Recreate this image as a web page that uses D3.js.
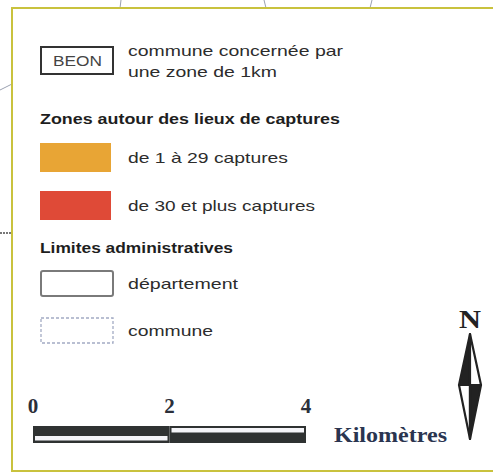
<!DOCTYPE html>
<html>
<head>
<meta charset="utf-8">
<script src="https://cdn.jsdelivr.net/npm/d3@7"></script>
<style>
  html, body { margin: 0; padding: 0; background: #fff; overflow: hidden; }
  svg { display: block; }
</style>
</head>
<body>
<div id="chart"></div>
<script>
// ---- data ----
const sampleCommune = "BEON";
const headerLines = ["commune concernée par", "une zone de 1km"];
const sectionTitles = ["Zones autour des lieux de captures", "Limites administratives"];
const captureClasses = ["de 1 à 29 captures", "de 30 et plus captures"];
const limitClasses = ["département", "commune"];
const scaleTicks = [0, 2, 4];
const scaleUnit = "Kilomètres";
const northLabel = "N";

// ---- styles ----
const captureColors = ["#e8a535", "#df4a37"];
const textColor = "#2c2c2c";
const W = 493, H = 472;

const svg = d3.select("#chart").append("svg")
  .attr("width", W).attr("height", H)
  .style("font-family", "'Liberation Sans', Arial, sans-serif");

// faint map remnants outside the frame
const g0 = svg.append("g").attr("stroke", "#9aa0b0").attr("stroke-width", 1).attr("fill", "none");
g0.append("line").attr("x1", 121).attr("y1", 0).attr("x2", 120).attr("y2", 8);
g0.append("line").attr("x1", 264).attr("y1", 0).attr("x2", 266).attr("y2", 8);
g0.append("line").attr("x1", 372).attr("y1", 0).attr("x2", 370).attr("y2", 8);
g0.append("path").attr("d", "M0,90 L8,86 L12,84");
svg.append("line").attr("x1", 0).attr("y1", 233).attr("x2", 12).attr("y2", 233)
  .attr("stroke", "#777").attr("stroke-width", 2).attr("stroke-dasharray", "2,1");

// frame: top, left and bottom edges only (right edge is cut off in the reference)
const frame = svg.append("g").attr("stroke", "#c9c23d").attr("stroke-width", 2);
frame.append("line").attr("x1", 11).attr("y1", 8).attr("x2", W).attr("y2", 8);
frame.append("line").attr("x1", 12).attr("y1", 7).attr("x2", 12).attr("y2", 472);
frame.append("line").attr("x1", 11).attr("y1", 471).attr("x2", W).attr("y2", 471);

function label(x, y, txt, len, opts = {}) {
  const t = svg.append("text").attr("x", x).attr("y", y).text(txt)
    .attr("fill", opts.fill || textColor)
    .attr("font-size", opts.size || 15)
    .attr("font-weight", opts.weight || "normal");
  if (opts.family) t.attr("font-family", opts.family);
  if (opts.anchor) t.attr("text-anchor", opts.anchor);
  if (len) t.attr("textLength", len).attr("lengthAdjust", "spacingAndGlyphs");
  return t;
}

// --- commune concernée ---
svg.append("rect").attr("x", 41).attr("y", 47).attr("width", 72).attr("height", 27)
  .attr("fill", "#fff").attr("stroke", "#333").attr("stroke-width", 2);
label(53, 66, sampleCommune, 49, { size: 14, fill: "#444" });
const headerBaselines = [56, 77];
headerLines.forEach((l, i) => label(128, headerBaselines[i], l, [215, 149][i]));

// --- section titles ---
label(40, 124, sectionTitles[0], 300, { weight: "bold", fill: "#1e1e1e" });
label(40, 253, sectionTitles[1], 193, { weight: "bold", fill: "#1e1e1e" });

// --- capture classes ---
const capY = d3.scaleOrdinal().domain(captureClasses).range([143, 191]);
captureClasses.forEach((c, i) => {
  svg.append("rect").attr("x", 40).attr("y", capY(c)).attr("width", 71).attr("height", 29)
    .attr("fill", captureColors[i]);
  label(128, capY(c) + 20, c, [160, 187][i]);
});

// --- administrative limits ---
const limY = d3.scaleOrdinal().domain(limitClasses).range([271, 318]);
limitClasses.forEach((c, i) => {
  const r = svg.append("rect").attr("x", 41).attr("y", limY(c)).attr("width", 72).attr("height", 25)
    .attr("fill", "#fff");
  if (i === 0) r.attr("stroke", "#7a7a7a").attr("stroke-width", 2).attr("rx", 2);
  else r.attr("stroke", "#a3abc4").attr("stroke-width", 1.3).attr("stroke-dasharray", "3,2");
  label(128, limY(c) + 18, c, [110, 85][i]);
});

// --- scale bar ---
const serif = "'Liberation Serif', 'Times New Roman', serif";
const sx = d3.scaleLinear().domain([0, 4]).range([33, 306]);
scaleTicks.forEach(t => {
  label(sx(t), 413, String(t), null, { size: 21, weight: "bold", family: serif, anchor: "middle", fill: "#2b2f3a" });
});
const segs = d3.pairs(scaleTicks);
segs.forEach((s, i) => {
  svg.append("rect").attr("x", sx(s[0])).attr("y", 426).attr("width", sx(s[1]) - sx(s[0])).attr("height", 17)
    .attr("fill", "#2f3232");
  svg.append("rect").attr("x", sx(s[0]) + 2).attr("y", i % 2 === 0 ? 436 : 428)
    .attr("width", sx(s[1]) - sx(s[0]) - 4).attr("height", 4.5)
    .attr("fill", "#f4f4f8");
});
label(334, 442, scaleUnit, 113, { size: 20, weight: "bold", family: serif, fill: "#2a3550" });

// --- north arrow ---
const ncx = 470;
label(ncx - 11, 328, northLabel, 22, { size: 25, weight: "bold", family: serif, fill: "#222" });
const aTop = 334, aMid = 385, aBot = 439, aHw = 11;
const tri = (pts, fill) => svg.append("path").attr("d", d3.line()(pts) + "Z")
  .attr("fill", fill).attr("stroke", "#222").attr("stroke-width", 2.2).attr("stroke-linejoin", "round");
tri([[ncx, aTop], [ncx - aHw, aMid], [ncx, aMid]], "#222");
tri([[ncx, aTop], [ncx + aHw, aMid], [ncx, aMid]], "#fff");
tri([[ncx, aBot], [ncx - aHw, aMid], [ncx, aMid]], "#fff");
tri([[ncx, aBot], [ncx + aHw, aMid], [ncx, aMid]], "#222");
</script>
</body>
</html>
